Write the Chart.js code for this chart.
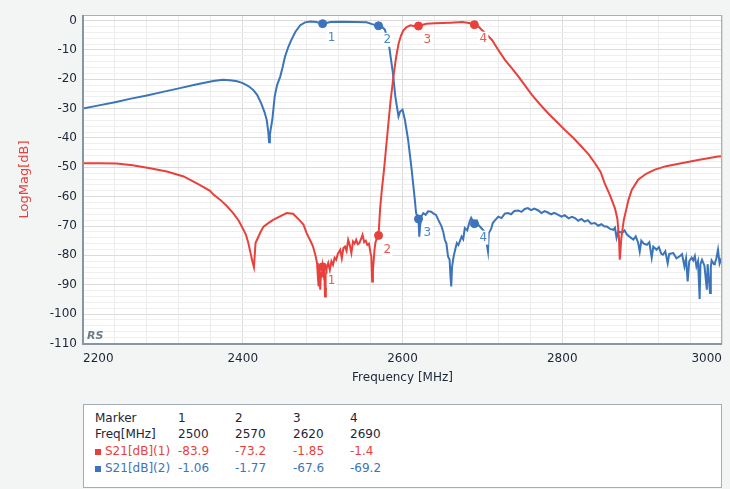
<!DOCTYPE html>
<html>
<head>
<meta charset="utf-8">
<script src="https://cdn.jsdelivr.net/npm/chart.js@4.4.0/dist/chart.umd.min.js"></script>
<style>
  html, body { margin: 0; padding: 0; background: #f3f5f5; }
  body { width: 730px; height: 489px; position: relative; overflow: hidden; font-family: "DejaVu Sans", sans-serif; }
  #chart { position: absolute; left: 0; top: 0; }
  .marker-box { position: absolute; left: 83px; top: 404px; width: 637px; height: 82px; background: #fff; border: 1px solid #a3adb6; font-size: 12px; color: #1d2636; }
  .cell { position: absolute; white-space: nowrap; line-height: 17px; }
  .name { overflow: hidden; width: 67px; }
  .sw { position: absolute; width: 6px; height: 6px; }
</style>
</head>
<body>
<canvas id="chart" width="730" height="392"></canvas>
<div class="marker-box" id="markerBox"></div>
<script>
// S21 trace 1 (red) - frequency in MHz, level in dB
const redFreq = [2200,2220,2242,2262,2284,2305,2326,2346,2359,2363,2372,2380,2388,2395,2401,2404,2407,2410,2412,2414,2416,2419,2422,2426,2432,2438,2446,2455,2463,2471,2476,2480,2486,2488,2491,2493,2494,2495,2496,2497,2498,2499,2500,2501,2502,2503,2504,2505,2507,2509,2511,2513,2515,2517,2519,2522,2524,2526,2528,2530,2532,2534,2536,2538,2540,2542,2544,2546,2548,2550,2552,2554,2556,2558,2560,2561,2562,2563,2564,2565,2566,2568,2570,2572,2574,2577,2579,2582,2585,2589,2592,2595,2598,2601,2605,2610,2615,2620,2630,2640,2660,2675,2685,2690,2695,2699,2705,2712,2720,2728,2737,2745,2753,2762,2772,2782,2793,2803,2814,2824,2833,2841,2848,2853,2858,2862,2866,2869,2871,2872,2874,2877,2880,2883,2887,2895,2905,2916,2930,2949,2970,2995,3000];
const redDb = [-48.6,-48.6,-48.7,-49.3,-50.3,-51.4,-53.1,-56.0,-58.0,-59.2,-61.1,-63.2,-65.6,-68.2,-71.3,-73.0,-75.8,-79.5,-82.0,-84.0,-75.8,-74.0,-72.2,-70.2,-69.0,-67.9,-66.8,-65.6,-65.8,-68.0,-69.5,-72.4,-75.8,-77.0,-80.0,-82.6,-87.0,-90.6,-83.5,-91.7,-85.5,-87.5,-83.9,-86.0,-84.2,-94.0,-93.0,-84.5,-82.6,-85.0,-82.0,-83.2,-80.8,-81.5,-79.5,-78.1,-81.0,-77.5,-77.0,-78.5,-74.7,-76.5,-79.2,-75.3,-76.0,-74.7,-76.2,-75.8,-74.5,-73.0,-75.5,-75.0,-76.4,-76.0,-79.2,-80.5,-88.9,-85.0,-81.5,-78.0,-75.8,-74.0,-73.2,-64.0,-58.0,-50.5,-44.6,-36.0,-27.5,-18.3,-12.5,-8.0,-5.2,-3.4,-2.2,-1.6,-1.9,-1.85,-1.1,-0.9,-0.7,-0.5,-0.9,-1.4,-2.0,-3.1,-4.6,-6.6,-10.0,-13.3,-16.3,-19.0,-22.0,-25.3,-28.5,-31.5,-34.5,-37.2,-40.0,-42.9,-45.6,-48.6,-51.6,-55.4,-58.4,-61.1,-64.0,-67.5,-74.0,-81.5,-74.0,-68.0,-64.5,-61.0,-57.7,-54.2,-52.2,-50.8,-49.6,-48.6,-47.5,-46.3,-46.2];

// S21 trace 2 (blue)
const blueFreq = [2200,2220,2240,2260,2280,2300,2320,2340,2363,2375,2384,2393,2400,2407,2413,2418,2423,2427,2430,2432,2433,2434,2435,2437,2440,2443,2447,2450,2453,2457,2461,2466,2472,2478,2485,2492,2500,2510,2525,2540,2555,2562,2570,2574,2578,2583,2588,2591,2594,2595,2597,2600,2603,2607,2611,2615,2617,2620,2621,2622,2624,2626,2629,2632,2636,2639,2642,2645,2649,2651,2653,2655,2657,2659,2660,2661,2662,2664,2666,2668,2670,2674,2676,2678,2681,2684,2686,2688,2690,2693,2695,2698,2703,2707,2708,2711,2713,2716,2720,2724,2728,2732,2736,2740,2745,2749,2753,2757,2761,2765,2770,2774,2778,2782,2786,2790,2795,2799,2803,2808,2812,2816,2820,2824,2828,2832,2836,2841,2845,2849,2853,2856,2860,2864,2866,2868,2870,2875,2878,2881,2885,2889,2892,2895,2897,2899,2902,2906,2909,2912,2914,2918,2921,2924,2926,2929,2932,2934,2939,2943,2947,2950,2953,2955,2957,2959,2962,2964,2966,2968,2970,2972,2973,2975,2978,2981,2982,2985,2986,2987,2990,2991,2993,2995,2997,3000];
const blueDb = [-30.0,-28.9,-27.8,-26.6,-25.5,-24.3,-23.1,-21.9,-20.6,-20.2,-20.3,-20.7,-21.3,-22.3,-23.6,-25.3,-28.1,-31.0,-33.8,-38.0,-41.5,-39.0,-37.0,-33.8,-25.8,-22.0,-19.0,-15.8,-12.2,-9.0,-6.5,-3.8,-1.6,-0.6,-0.3,-0.5,-1.06,-0.5,-0.4,-0.5,-0.6,-1.2,-1.77,-2.0,-3.1,-8.2,-17.9,-25.8,-31.0,-32.7,-31.0,-30.4,-33.8,-40.6,-49.7,-59.9,-65.6,-67.6,-73.6,-70.0,-66.5,-65.6,-66.2,-65.0,-65.1,-65.8,-66.2,-68.0,-70.2,-72.0,-74.7,-76.0,-80.4,-81.5,-87.0,-90.6,-84.0,-80.4,-78.0,-75.8,-76.5,-73.6,-74.5,-70.7,-71.5,-68.5,-67.2,-68.3,-69.2,-68.2,-69.6,-70.5,-72.0,-78.7,-72.4,-71.0,-69.0,-68.0,-66.8,-67.3,-65.8,-65.6,-66.0,-64.9,-64.7,-65.2,-64.2,-63.9,-64.6,-64.1,-64.7,-65.6,-64.9,-65.4,-66.0,-65.5,-66.2,-66.8,-66.3,-67.4,-66.9,-67.3,-68.2,-67.6,-68.5,-68.0,-69.2,-69.0,-69.9,-69.4,-70.2,-70.2,-71.0,-71.3,-70.6,-74.0,-71.8,-72.3,-71.5,-72.9,-73.8,-74.6,-73.5,-75.7,-78.7,-75.0,-76.0,-76.4,-75.5,-80.8,-77.0,-78.1,-77.2,-79.5,-79.8,-78.6,-82.7,-79.5,-79.2,-81.0,-80.3,-79.6,-83.8,-81.0,-88.9,-82.0,-80.8,-81.7,-80.2,-83.8,-82.0,-94.9,-83.0,-81.5,-83.5,-91.7,-83.0,-92.8,-84.0,-81.7,-83.0,-82.8,-81.0,-78.1,-82.8,-80.5];

// marker table
const markerNums = [1, 2, 3, 4];
const markerFreqs = [2500, 2570, 2620, 2690];
const redMarkerDb = [-83.9, -73.2, -1.85, -1.4];
const blueMarkerDb = [-1.06, -1.77, -67.6, -69.2];
const traceNames = ['S21[dB](1)', 'S21[dB](2)'];

// axis labels
const xTickLabels = [2200, 2400, 2600, 2800, 3000];
const yTickLabels = [0, -10, -20, -30, -40, -50, -60, -70, -80, -90, -100, -110];
const xMinorStep = 40, yMinorStep = 2;

const RED = '#e8413c', BLUE = '#3b74ba';
const RED_LABEL = '#ec5a52', BLUE_LABEL = '#4b88cb';
const TEXT = '#1d2636';

Chart.defaults.font.family = '"DejaVu Sans", sans-serif';
Chart.defaults.font.size = 12;

const pts = (xs, ys) => xs.map((x, i) => ({ x: x, y: ys[i] }));

const xGrid = [];
for (let f = xTickLabels[0]; f <= xTickLabels[xTickLabels.length - 1]; f += xMinorStep) xGrid.push(f);
const yGrid = [];
for (let d = yTickLabels[yTickLabels.length - 1]; d <= yTickLabels[0]; d += yMinorStep) yGrid.push(d);

const framePlugin = {
    id: 'frame',
    beforeDraw(chart) {
        const a = chart.chartArea, ctx = chart.ctx;
        ctx.save();
        ctx.fillStyle = '#ffffff';
        ctx.fillRect(a.left, a.top, a.right - a.left, a.bottom - a.top);
        ctx.restore();
    },
    afterDatasetsDraw(chart) {
        // marker numbers under each marker
        const ctx = chart.ctx, xs = chart.scales.x, ys = chart.scales.y;
        ctx.save();
        ctx.font = '12px "DejaVu Sans", sans-serif';
        ctx.textAlign = 'left';
        ctx.textBaseline = 'middle';
        [[redMarkerDb, RED_LABEL], [blueMarkerDb, BLUE_LABEL]].forEach(([vals, col]) => {
            markerFreqs.forEach((f, i) => {
                const px = xs.getPixelForValue(f), py = ys.getPixelForValue(vals[i]);
                ctx.fillStyle = '#ffffff';
                ctx.fillRect(px + 4, py + 7, 10, 14);
                ctx.fillStyle = col;
                ctx.fillText(String(markerNums[i]), px + 5, py + 14);
            });
        });
        ctx.restore();
    },
    afterDraw(chart) {
        const a = chart.chartArea, ctx = chart.ctx;
        ctx.save();
        ctx.strokeStyle = '#a6b0ba';
        ctx.lineWidth = 1;
        ctx.strokeRect(a.left + 0.5, a.top + 0.5, a.right - a.left - 1, a.bottom - a.top - 1);
        ctx.strokeStyle = '#8895a3';
        ctx.lineWidth = 2;
        ctx.beginPath();
        ctx.moveTo(a.left, a.top);
        ctx.lineTo(a.left, a.bottom);
        ctx.lineTo(a.right, a.bottom);
        ctx.stroke();
        ctx.fillStyle = '#6b7b8a';
        ctx.font = 'italic 600 11px "DejaVu Sans", sans-serif';
        ctx.textBaseline = 'alphabetic';
        ctx.fillText('RS', a.left + 4, a.bottom - 5);
        ctx.restore();
    }
};

new Chart(document.getElementById('chart'), {
    type: 'line',
    data: {
        datasets: [
            { data: pts(blueFreq, blueDb), borderColor: BLUE, borderWidth: 2, pointRadius: 0, tension: 0, order: 4 },
            { data: pts(redFreq, redDb), borderColor: RED, borderWidth: 2, pointRadius: 0, tension: 0, order: 3 },
            { data: pts(markerFreqs, blueMarkerDb), showLine: false, pointRadius: 4, pointBackgroundColor: BLUE, pointBorderColor: BLUE, order: 2 },
            { data: pts(markerFreqs, redMarkerDb), showLine: false, pointRadius: 4, pointBackgroundColor: RED, pointBorderColor: RED, order: 1 }
        ]
    },
    options: {
        responsive: false,
        animation: false,
        layout: { padding: { top: 15, right: 8, left: 0, bottom: 0 } },
        plugins: { legend: { display: false }, tooltip: { enabled: false } },
        scales: {
            x: {
                type: 'linear',
                min: xTickLabels[0],
                max: xTickLabels[xTickLabels.length - 1],
                afterBuildTicks: s => { s.ticks = xGrid.map(v => ({ value: v })); },
                afterFit: s => { s.height = 48; },
                ticks: {
                    autoSkip: false, maxRotation: 0, align: 'inner', padding: 8, color: TEXT,
                    callback: v => xTickLabels.includes(v) ? String(v) : ''
                },
                grid: {
                    drawTicks: false,
                    color: c => (c.tick && c.tick.value % 200 === 0) ? '#dcdcdc' : '#ececec'
                },
                border: { display: false },
                title: { display: true, text: 'Frequency [MHz]', color: TEXT, font: { size: 12 }, padding: { top: 0, bottom: 7 } }
            },
            y: {
                min: -110.2,
                max: 1.9,
                afterBuildTicks: s => { s.ticks = yGrid.map(v => ({ value: v })); },
                afterFit: s => { s.width = 83; },
                ticks: {
                    autoSkip: false, padding: 6, color: TEXT,
                    callback: v => yTickLabels.includes(v) ? String(v) : ''
                },
                grid: {
                    drawTicks: false,
                    color: c => (c.tick && c.tick.value % 10 === 0) ? '#dcdcdc' : '#efefef'
                },
                border: { display: false },
                title: { display: true, text: 'LogMag[dB]', color: RED, font: { size: 13 }, padding: { top: 17, bottom: 0 } }
            }
        }
    },
    plugins: [framePlugin]
});

// marker table below the chart
const box = document.getElementById('markerBox');
const rowTops = [5, 21, 38, 55];
const colLefts = [94, 151, 209, 266];
function cell(text, left, top, color, cls) {
    const d = document.createElement('div');
    d.className = 'cell' + (cls ? ' ' + cls : '');
    d.textContent = text;
    d.style.left = left + 'px';
    d.style.top = top + 'px';
    if (color) d.style.color = color;
    box.appendChild(d);
}
cell('Marker', 11, rowTops[0]);
cell('Freq[MHz]', 11, rowTops[1]);
markerNums.forEach((n, i) => cell(String(n), colLefts[i], rowTops[0]));
markerFreqs.forEach((f, i) => cell(String(f), colLefts[i], rowTops[1]));
[[redMarkerDb, RED], [blueMarkerDb, BLUE]].forEach(([vals, col], r) => {
    const sw = document.createElement('div');
    sw.className = 'sw';
    sw.style.background = col;
    sw.style.left = '11px';
    sw.style.top = (rowTops[r + 2] + 6) + 'px';
    box.appendChild(sw);
    cell(traceNames[r], 21, rowTops[r + 2], col, 'name');
    vals.forEach((v, i) => cell(String(v), colLefts[i], rowTops[r + 2], col));
});
</script>
</body>
</html>
